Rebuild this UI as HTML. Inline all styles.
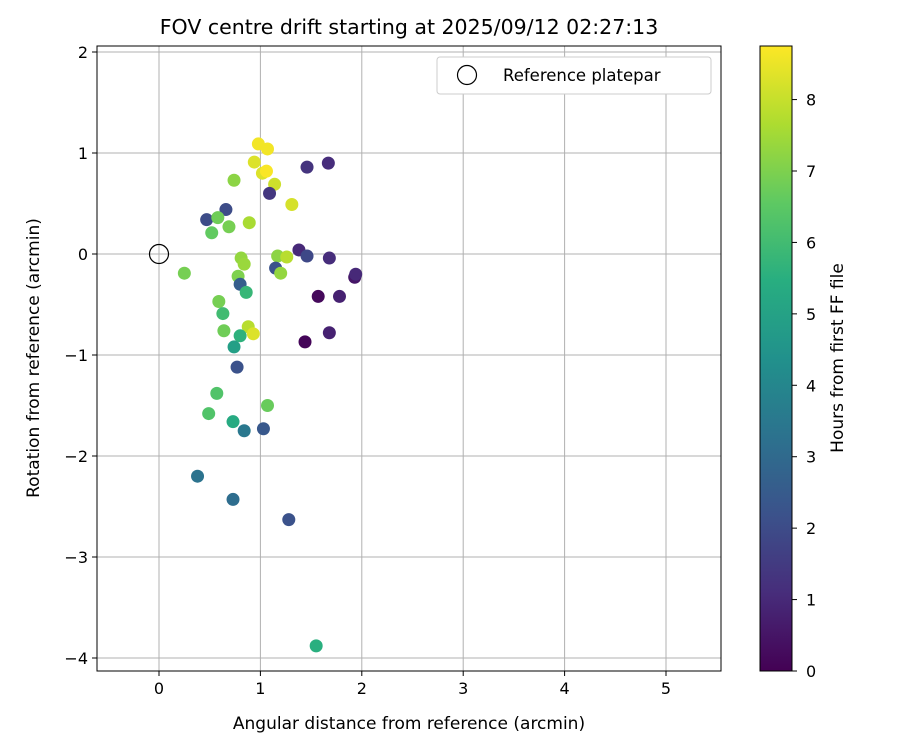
<!DOCTYPE html>
<html><head><meta charset="utf-8"><style>
html,body{margin:0;padding:0;background:#fff;width:900px;height:750px;overflow:hidden}
svg text{font-family:"DejaVu Sans","Liberation Sans",sans-serif;fill:#000}
</style></head><body>
<svg id="chart" width="900" height="750" xmlns="http://www.w3.org/2000/svg">
<defs><linearGradient id="vir" x1="0" y1="1" x2="0" y2="0">
<stop offset="0" stop-color="#440154"/><stop offset="0.125" stop-color="#472d7b"/><stop offset="0.25" stop-color="#3b528b"/><stop offset="0.375" stop-color="#2c728e"/><stop offset="0.5" stop-color="#21918c"/><stop offset="0.625" stop-color="#28ae80"/><stop offset="0.75" stop-color="#5ec962"/><stop offset="0.875" stop-color="#addc30"/><stop offset="1" stop-color="#fde725"/></linearGradient></defs>
<g id="grid"></g>
<g id="pts"></g>
<rect x="97" y="46" width="624" height="625" fill="none" stroke="#000" stroke-width="1"/>
<g id="ticks"></g>
<text x="409" y="34" font-size="20.5" text-anchor="middle">FOV centre drift starting at 2025/09/12 02:27:13</text>
<text x="409" y="729" font-size="17" text-anchor="middle">Angular distance from reference (arcmin)</text>
<text x="39" y="358" font-size="17" text-anchor="middle" transform="rotate(-90 39 358)">Rotation from reference (arcmin)</text>
<g>
<rect x="437" y="57" width="274" height="37" rx="3" fill="#fff" stroke="#ccc"/>
<circle cx="467" cy="75" r="9.5" fill="none" stroke="#000" stroke-width="1.2"/>
<text x="503" y="81" font-size="16.5">Reference platepar</text>
</g>
<rect x="760" y="46" width="32" height="625" fill="url(#vir)" stroke="#000" stroke-width="1"/>
<g id="cbticks"></g>
<text x="843" y="358" font-size="17" text-anchor="middle" transform="rotate(-90 843 358)">Hours from first FF file</text>
</svg>
<script>
const xs=[0.98,1.07,0.94,1.02,1.06,1.14,0.74,1.46,1.67,1.09,1.31,0.66,0.47,0.58,0.52,0.69,0.89,1.38,1.46,1.68,1.17,1.26,0.81,0.84,1.15,1.20,0.25,0.78,0.80,0.86,1.93,1.94,1.57,1.78,0.59,0.63,0.88,0.93,0.64,0.80,0.74,1.44,1.68,0.77,0.57,0.49,1.07,0.73,0.84,1.03,0.38,0.73,1.28,1.55];
const ys=[1.09,1.04,0.91,0.80,0.82,0.69,0.73,0.86,0.90,0.60,0.49,0.44,0.34,0.36,0.21,0.27,0.31,0.04,-0.02,-0.04,-0.02,-0.03,-0.04,-0.10,-0.14,-0.19,-0.19,-0.22,-0.30,-0.38,-0.23,-0.20,-0.42,-0.42,-0.47,-0.59,-0.72,-0.79,-0.76,-0.81,-0.92,-0.87,-0.78,-1.12,-1.38,-1.58,-1.50,-1.66,-1.75,-1.73,-2.20,-2.43,-2.63,-3.88];
const hours=[8.6,8.6,8.3,8.3,8.7,8.1,7.2,1.3,1.1,1.4,8.2,2.0,2.0,6.8,6.6,6.9,7.6,1.0,1.9,1.1,7.2,7.8,7.3,7.4,2.2,7.3,6.9,7.0,2.6,5.8,0.5,1.0,0.2,0.8,6.9,6.0,7.8,8.3,6.8,5.6,4.9,0.1,0.8,2.2,6.3,6.3,6.7,5.3,3.5,2.4,3.3,3.1,2.2,5.5];
const xTicks=[0,1,2,3,4,5], yTicks=[2,1,0,-1,-2,-3,-4], cTicks=[0,1,2,3,4,5,6,7,8];
const X=v=>159+v*101.4, Y=v=>254-v*101, C=v=>671-v*(625/8.75);
const vir=["#440154","#472d7b","#3b528b","#2c728e","#21918c","#28ae80","#5ec962","#addc30","#fde725"];
function hex(h){return [1,3,5].map(i=>parseInt(h.substr(i,2),16));}
function cmap(v){let t=Math.max(0,Math.min(1,v/8.75))*8,i=Math.min(7,Math.floor(t)),f=t-i,a=hex(vir[i]),b=hex(vir[i+1]);return "rgb("+a.map((c,k)=>Math.round(c+(b[k]-c)*f)).join(",")+")";}
const NS="http://www.w3.org/2000/svg";
function mk(tag,at,parent){const e=document.createElementNS(NS,tag);for(const k in at)e.setAttribute(k,at[k]);parent.appendChild(e);return e;}
const g=document.getElementById('grid'),p=document.getElementById('pts'),t=document.getElementById('ticks'),cb=document.getElementById('cbticks');
xTicks.forEach(v=>{
 const l=mk('line',{x1:X(v),x2:X(v),y1:46,y2:671,stroke:'#b0b0b0','stroke-width':1},g);
 
 
 mk('line',{x1:X(v),x2:X(v),y1:671,y2:676,stroke:'#000'},t);
 const tx=mk('text',{x:X(v),y:694,'font-size':16,'text-anchor':'middle'},t);tx.textContent=v;
 
 
});
yTicks.forEach(v=>{
 const l=mk('line',{x1:97,x2:721,y1:Y(v),y2:Y(v),stroke:'#b0b0b0','stroke-width':1},g);
 
 
 mk('line',{x1:92,x2:97,y1:Y(v),y2:Y(v),stroke:'#000'},t);
 const tx=mk('text',{x:88,y:Y(v)+6,'font-size':16,'text-anchor':'end'},t);tx.textContent=(v<0?'\u2212'+(-v):v);
 
 
});
cTicks.forEach(v=>{
 mk('line',{x1:792,x2:797,y1:C(v),y2:C(v),stroke:'#000'},cb);
 const tx=mk('text',{x:806,y:C(v)+6,'font-size':16},cb);tx.textContent=v;
 
 
});
xs.forEach((x,i)=>{
 const c=mk('circle',{cx:X(x),cy:Y(ys[i]),r:6.5,fill:cmap(hours[i])},p);
 
 
});
const r=mk('circle',{cx:X(0),cy:Y(0),r:9.5,fill:'none',stroke:'#000','stroke-width':1.2},p);


</script>
</body></html>
